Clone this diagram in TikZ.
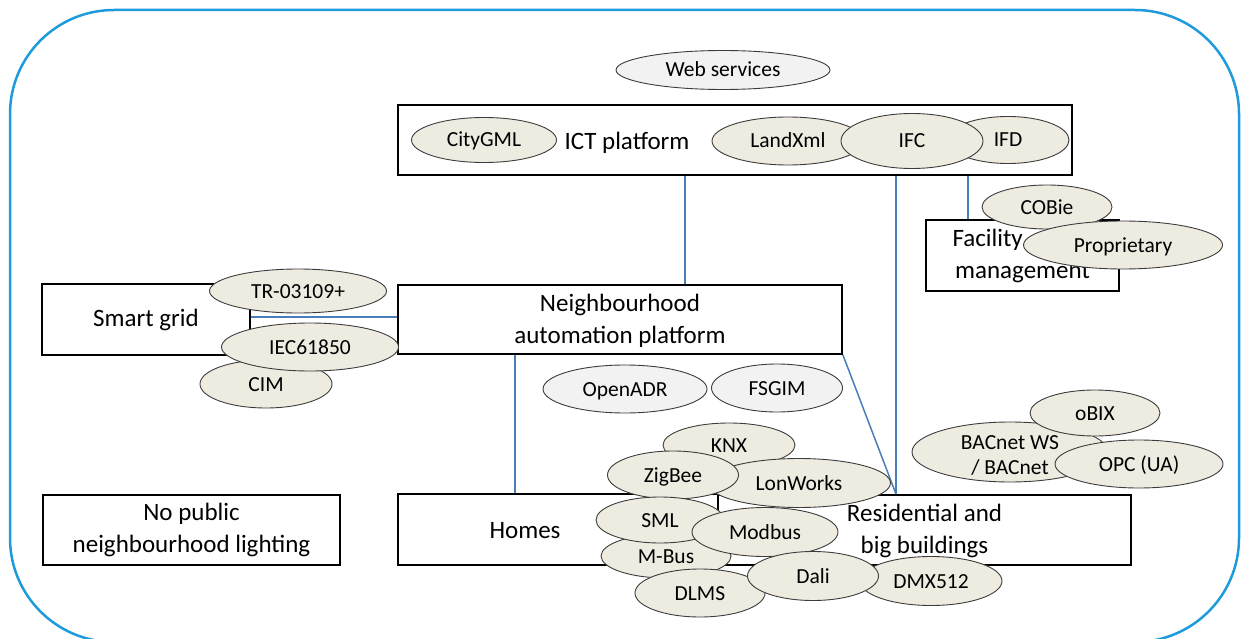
\documentclass[tikz,border=0pt]{standalone}
\usepackage{fontspec}
\setmainfont{Carlito}
\usetikzlibrary{shapes.geometric}
\definecolor{frameblue}{RGB}{30,155,220}
\definecolor{linkblue}{RGB}{74,126,187}
\definecolor{tanfill}{RGB}{238,236,225}
\definecolor{lgrey}{RGB}{242,242,242}
\definecolor{edgegrey}{RGB}{60,60,60}
\begin{document}
\begin{tikzpicture}[x=1pt,y=-1pt,
  box/.style={draw=black, line width=1.8pt, fill=white, rectangle, inner sep=0pt, align=center, font=\fontsize{25}{32}\selectfont},
  lbl/.style={inner sep=0pt, align=center, font=\fontsize{25}{32}\selectfont},
  ell/.style={ellipse, draw=edgegrey, line width=0.9pt, fill=tanfill, inner sep=0pt, text height=16pt, text depth=2pt, font=\fontsize{21.5}{24}\selectfont},
  gell/.style={ell, fill=lgrey},
  elbl/.style={inner sep=0pt, align=center, font=\fontsize{21.5}{25}\selectfont},
  link/.style={draw=linkblue, line width=1.5pt}]
\clip (0,0) rectangle (1241,639);
\draw[frameblue, line width=2.5pt, rounded corners=104pt] (10,10) rectangle (1239,642);

% connector positions
\coordinate (cx1) at (685,0);
\coordinate (cx2) at (896,0);
\coordinate (cx3) at (515,0);
\coordinate (cx4) at (968,0);
\coordinate (cy1) at (0,317);

% boxes
\node[box, minimum width=674pt, minimum height=70pt] (ict) at (735,140) {};
\node[lbl] (ictl) at (627,143) {ICT platform};
\node[box, minimum width=444pt, minimum height=69pt] (nap) at (620,319.5) {\rule{0pt}{20pt}Neighbourhood\\automation platform};
\node[box, minimum width=208pt, minimum height=71pt] (sg) at (146,319.5) {Smart grid};
\node[box, minimum width=320pt, minimum height=71pt] (homes) at (558,529.5) {};
\node[lbl] (homesl) at (525,531) {Homes};
\node[box, minimum width=413pt, minimum height=70pt] (res) at (924.5,530) {\rule{0pt}{20pt}Residential and\\big buildings};
\node[box, minimum width=297pt, minimum height=70pt] (nopub) at (191.5,530) {No public\\neighbourhood lighting};
\node[box, minimum width=193pt, minimum height=71pt] (fm) at (1022.5,255.5) {\makebox[140pt][l]{Facility}\\management};

% connectors
\path[link] (ict.south -| cx1) -- (nap.north -| cx1);
\path[link] (ict.south -| cx2) -- (res.north -| cx2);
\path[link] (nap.south east) -- (res.north -| cx2);
\path[link] (nap.south -| cx3) -- (homes.north -| cx3);
\path[link] (sg.east |- cy1) -- (nap.west |- cy1);
\path[link] (ict.south -| cx4) -- (fm.north -| cx4);

% ellipses
\node[gell, minimum width=214pt, minimum height=39pt] (web) at (723,70) {Web services};
\node[ell, minimum width=145pt, minimum height=45pt] (citygml) at (484,140) {CityGML};
\node[ell, minimum width=152pt, minimum height=48pt] (landxml) at (788,141) {LandXml};
\node[ell, minimum width=122pt, minimum height=47pt] (ifd) at (1008,140) {IFD};
\node[ell, minimum width=142pt, minimum height=55pt] (ifc) at (912,141) {IFC};
\node[ell, minimum width=130pt, minimum height=44pt] (cobie) at (1047,207) {COBie};
\node[ell, minimum width=199pt, minimum height=48pt] (prop) at (1123,245) {Proprietary};
\node[ell, minimum width=177pt, minimum height=44pt] (tr) at (298,291) {TR-03109+};
\node[ell, minimum width=132pt, minimum height=48pt] (cim) at (266,384) {CIM};
\node[ell, minimum width=177pt, minimum height=48pt] (iec) at (310,347) {IEC61850};
\node[gell, minimum width=164pt, minimum height=48pt] (openadr) at (625,389) {OpenADR};
\node[gell, minimum width=131pt, minimum height=48pt] (fsgim) at (777,388) {FSGIM};
\node[ell, minimum width=196pt, minimum height=60pt] (bacnet) at (1010,452) {};
\node[elbl] (bacnetl) at (1010,455) {BACnet WS\\/ BACnet};
\node[ell, minimum width=130pt, minimum height=46pt] (obix) at (1095,413) {oBIX};
\node[ell, minimum width=168pt, minimum height=48pt] (opc) at (1139,464) {OPC (UA)};
\node[ell, minimum width=132pt, minimum height=44pt] (knx) at (729,445) {KNX};
\node[ell, minimum width=183pt, minimum height=49pt] (lon) at (799,483) {LonWorks};
\node[ell, minimum width=131pt, minimum height=48pt] (zig) at (673,475) {ZigBee};
\node[ell, minimum width=130pt, minimum height=44pt] (mbus) at (666,556) {M-Bus};
\node[ell, minimum width=128pt, minimum height=46pt] (sml) at (660,520) {SML};
\node[ell, minimum width=146pt, minimum height=49pt] (modbus) at (765,532) {Modbus};
\node[ell, minimum width=142pt, minimum height=49pt] (dmx) at (931,581) {DMX512};
\node[ell, minimum width=130pt, minimum height=48pt] (dlms) at (700,593) {DLMS};
\node[ell, minimum width=131pt, minimum height=49pt] (dali) at (813,576) {Dali};
\end{tikzpicture}
\end{document}
